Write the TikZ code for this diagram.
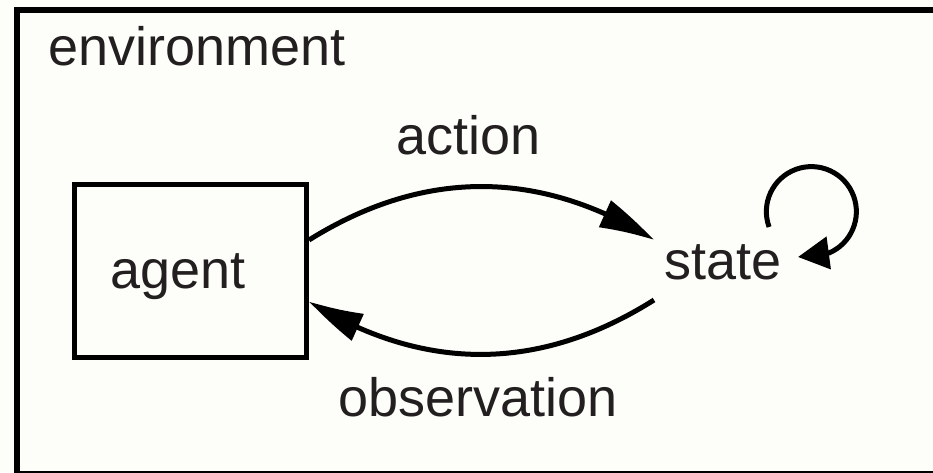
\documentclass[tikz,border=0pt]{standalone}
\usepackage{fontspec}
\setmainfont{Liberation Sans}
\usetikzlibrary{arrows.meta,bending}
\definecolor{paper}{RGB}{253,253,249}
\definecolor{ink}{RGB}{35,31,32}
\tikzset{
  x=1pt, y=1pt,
  caption/.style={text=ink, inner sep=0pt, outer sep=0pt,
    font=\fontsize{54}{60}\selectfont},
  agentbox/.style={draw=black, line width=5pt, rectangle,
    minimum width=232.5pt, minimum height=173.5pt, inner sep=0pt},
  flow/.style={draw=black, line width=5pt,
    -{Triangle[length=57pt, width=28pt, bend]}},
  selfloop/.style={draw=black, line width=5pt,
    -{Triangle[length=31pt, width=32pt]}},
}
\begin{document}
\begin{tikzpicture}
  \useasboundingbox (0,0) rectangle (933,472);
  \fill[paper] (0,0) rectangle (933,472);
  \begin{scope}
    \clip (0,0) rectangle (933,472);
    % environment frame, running off the right and bottom edges
    \draw[line width=6pt] (16.5,462) rectangle (946,-2.2);
  \end{scope}

  \node[caption, anchor=base west] (envlabel) at (48,406) {environment};

  % the agent
  \node[agentbox] (agent) at (190.25,201.25) {};
  \node[caption, anchor=base west] (agentlabel) at (110,184) {agent};

  % the state
  \node[caption, anchor=west, text height=18pt, text depth=0pt,
        inner xsep=10.5pt, inner ysep=0pt] (state) at (654,202) {state};

  % action and observation arcs
  \draw[flow] ([yshift=30.75pt]agent.east) to[bend left=32] ([yshift=30pt]state.west);
  \draw[flow] ([yshift=-30pt]state.west) to[bend left=32] ([yshift=-30.75pt]agent.east);

  \node[caption, anchor=base west] (actionlabel) at (396,318) {action};
  \node[caption, anchor=base west] (obslabel) at (338,56) {observation};

  % state transition loop: a circle round above the right of the label,
  % ending in a head that points back at it
  \coordinate (looptip) at (798,215);
  \draw[selfloop] ([shift={(-23pt,43pt)}]state.east)
    arc[start angle=200, end angle=-66.4, radius=45pt] -- (looptip);
\end{tikzpicture}
\end{document}
